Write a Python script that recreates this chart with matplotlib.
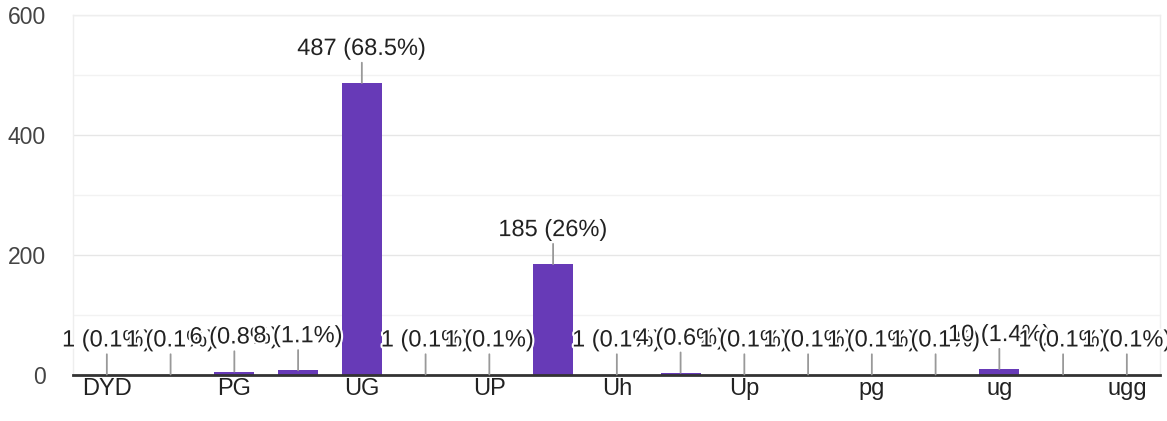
import matplotlib
matplotlib.use("Agg")
import matplotlib.pyplot as plt
import matplotlib.patheffects as pe
from matplotlib.ticker import MultipleLocator

plt.rcParams['font.family'] = ['Liberation Sans', 'DejaVu Sans']

categories = ["DYD", "Graduate", "PG", "Pg", "UG", "UG ", "UP", "Ug", "Uh",
              "Under graduate", "Up", "graduate", "pg", "u.g", "ug", "ug ", "ugg"]
counts = [1, 1, 6, 8, 487, 1, 1, 185, 1, 4, 1, 1, 1, 1, 10, 1, 1]
y_ticks = [0, 200, 400, 600]

total = sum(counts)

def fmt_pct(v):
    p = round(v / total * 100, 1)
    s = f"{p:.1f}"
    if s.endswith(".0"):
        s = s[:-2]
    return f"{v} ({s}%)"

fig = plt.figure(figsize=(11.67, 4.21), dpi=100)
ax = fig.add_axes([0.0626, 0.109, 0.9314, 0.855])

x = list(range(len(categories)))
ax.bar(x, counts, width=0.63, color="#673ab7", zorder=3)

ax.set_xlim(-0.53, len(categories) - 1 + 0.52)
ax.set_ylim(0, 600)
ax.set_yticks(y_ticks)
ax.yaxis.set_minor_locator(MultipleLocator(100))
ax.grid(axis='y', which='major', color='#e6e6e6', lw=1, zorder=0)
ax.grid(axis='y', which='minor', color='#f2f2f2', lw=1, zorder=0)

ax.set_xticks(x)
ax.set_xticklabels([c if i % 2 == 0 else "" for i, c in enumerate(categories)])
ax.tick_params(axis='x', length=0, pad=2, labelsize=17, labelcolor='#222222')
ax.tick_params(axis='y', which='both', length=0, pad=19.5, labelsize=16.5, labelcolor='#444444')

for s in ['left', 'right', 'top']:
    ax.spines[s].set_color('#eeeeee')
    ax.spines[s].set_linewidth(1)
ax.spines['bottom'].set_color('#333333')
ax.spines['bottom'].set_linewidth(2)
ax.spines['bottom'].set_zorder(4)

for i, v in enumerate(counts):
    ax.annotate(fmt_pct(v), xy=(i, v), xytext=(0, 24.5), textcoords='offset points',
                ha='center', va='center', fontsize=17, color='#222222', zorder=5,
                path_effects=[pe.withStroke(linewidth=3, foreground='white')],
                arrowprops=dict(arrowstyle='-', color='#999999', lw=1.3,
                                shrinkA=0, shrinkB=0))

fig.savefig("out.png", dpi=100, facecolor='white')
